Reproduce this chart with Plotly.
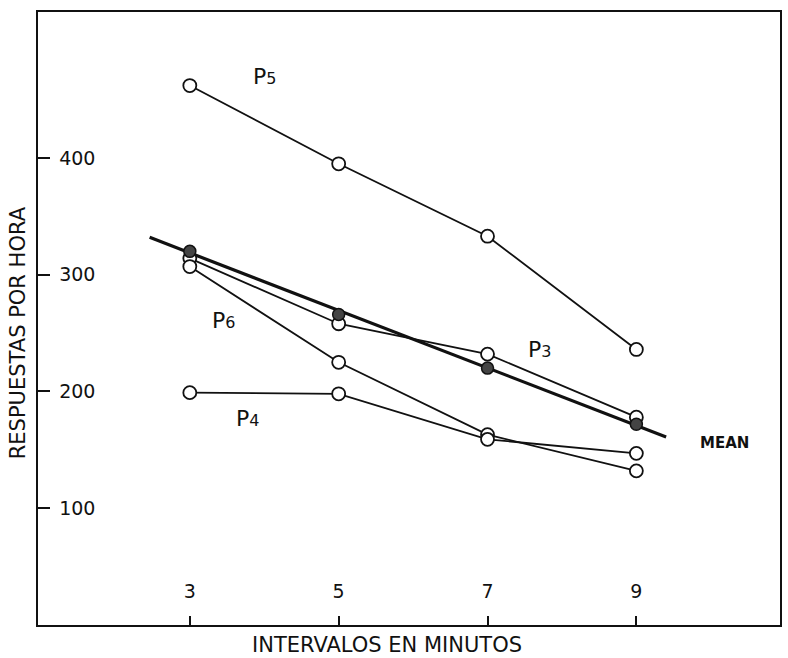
import plotly.graph_objects as go

intervals = [3, 5, 7, 9]
p5 = [462, 395, 333, 236]
p3 = [314, 258, 232, 178]
p6 = [307, 225, 163, 132]
p4 = [199, 198, 159, 147]
mean_pts = [320, 266, 220, 172]
mean_fit_x = [2.46, 9.40]
mean_fit_y = [332, 161]

x_ticks = [3, 5, 7, 9]
y_ticks = [100, 200, 300, 400]

FONT = "DejaVu Sans, Arial, sans-serif"

fig = go.Figure()

fig.add_trace(go.Scatter(x=mean_fit_x, y=mean_fit_y, mode="lines",
                         line=dict(color="#111", width=3.2), showlegend=False))

open_marker = dict(symbol="circle", size=13, color="white",
                   line=dict(color="#111", width=1.8))
for ys in [p5, p3, p6, p4]:
    fig.add_trace(go.Scatter(x=intervals, y=ys, mode="lines+markers",
                             line=dict(color="#111", width=1.8),
                             marker=open_marker, showlegend=False))

fig.add_trace(go.Scatter(x=intervals, y=mean_pts, mode="markers",
                         marker=dict(symbol="circle", size=12, color="#444",
                                     line=dict(color="#111", width=1.5)),
                         showlegend=False))

labels = [
    ("P", "5", 4.0, 470),
    ("P", "6", 3.45, 261),
    ("P", "3", 7.7, 236),
    ("P", "4", 3.78, 177),
]
for p, n, x, y in labels:
    fig.add_annotation(x=x, y=y, text=f"{p}<span style='font-size:16px'>{n}</span>",
                       showarrow=False, font=dict(family=FONT, size=22, color="#111"))

fig.add_annotation(x=10.18, y=156, text="<b>MEAN</b>", showarrow=False,
                   font=dict(family=FONT, size=15, color="#111"))

fig.add_annotation(xref="paper", yref="paper", x=0.47, y=-0.0326, yanchor="middle",
                   text="INTERVALOS EN MINUTOS", showarrow=False,
                   font=dict(family=FONT, size=21, color="#111"))
fig.add_annotation(xref="paper", yref="paper", x=-0.0269, xanchor="center", y=0.476,
                   yanchor="middle",
                   text="RESPUESTAS POR HORA", textangle=-90, showarrow=False,
                   font=dict(family=FONT, size=21, color="#111"))

fig.update_xaxes(range=[0.96, 10.93], tickvals=x_ticks, ticktext=[str(v) for v in x_ticks],
                 ticks="inside", ticklen=9, tickwidth=1.5, tickcolor="#111",
                 ticklabelposition="inside", ticklabelstandoff=15,
                 showline=True, linecolor="#111", linewidth=2, mirror=True,
                 showgrid=False, zeroline=False,
                 tickfont=dict(family=FONT, size=19, color="#111"))
fig.update_yaxes(range=[0, 525], tickvals=y_ticks, ticktext=[str(v) for v in y_ticks],
                 ticks="inside", ticklen=12, tickwidth=1.5, tickcolor="#111",
                 ticklabelposition="inside", ticklabelstandoff=10,
                 showline=True, linecolor="#111", linewidth=2, mirror=True,
                 showgrid=False, zeroline=False,
                 tickfont=dict(family=FONT, size=19, color="#111"))

fig.update_layout(width=788, height=658,
                  margin=dict(l=38, r=6, t=12, b=33),
                  paper_bgcolor="white", plot_bgcolor="white")

fig.write_html("out.html")
